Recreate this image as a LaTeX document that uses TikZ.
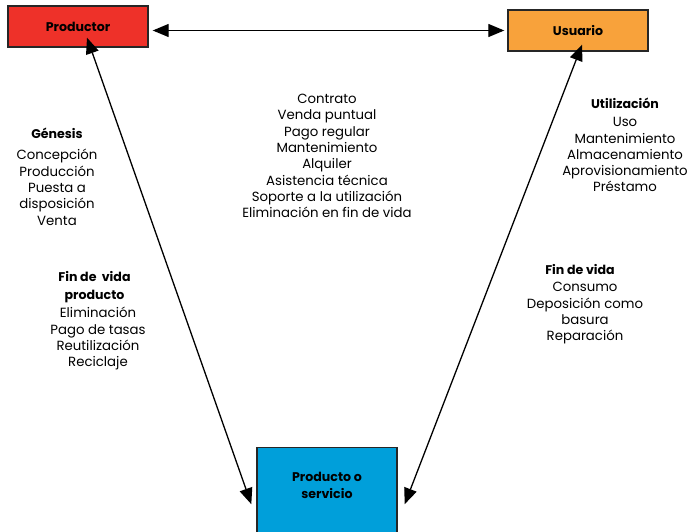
\documentclass[tikz,border=0pt]{standalone}
\usepackage{fontspec}
\setmainfont{Poppins}
\usetikzlibrary{arrows.meta,calc}
\definecolor{prodred}{HTML}{EE3129}
\definecolor{usuorange}{HTML}{F8A23B}
\definecolor{servblue}{HTML}{009FDA}
\tikzset{
  actor/.style={draw=black!85, line width=1.4pt, minimum width=140pt, minimum height=41pt,
    inner sep=0pt, font=\fontsize{12.6}{14}\selectfont\bfseries},
  linkarrow/.style={line width=1.3pt, {Triangle[length=16pt,width=13pt]}-{Triangle[length=16pt,width=13pt]}},
  txt/.style={align=center, inner sep=0pt, font=\fontsize{13.3}{16.3}\selectfont},
  head/.style={align=center, inner sep=0pt, font=\fontsize{12.6}{17.5}\selectfont\bfseries}
}
\begin{document}
\begin{tikzpicture}[x=1pt,y=-1pt]
\useasboundingbox (0,0) rectangle (693,532);
% the three actors
\node[actor, fill=prodred] (prod) at (78,26.5) {Productor};
\node[actor, fill=usuorange] (usu) at (578,30.5) {Usuario};
\node[actor, fill=servblue, minimum height=88pt, anchor=north] (ps) at (327,447) {};
\node[head, anchor=north, font=\fontsize{12.6}{17}\selectfont\bfseries] (pst) at ([yshift=-24.6pt]ps.north) {Producto o\\servicio};
% connectors
\draw[linkarrow] ([xshift=4pt]prod.east |- usu.west) -- ([xshift=-3pt]usu.west);
\draw[linkarrow] ([shift={(9,-10)}]prod.south) -- ([shift={(-5,12.5)}]ps.west);
\draw[linkarrow] ([shift={(4,-7)}]usu.south) -- ([shift={(7,12.5)}]ps.east);
% exchanges between producer and user
\node[txt, anchor=north] (rel) at (327,94) {Contrato\\Venda puntual\\Pago regular\\Mantenimiento\\Alquiler\\Asistencia técnica\\Soporte a la utilización\\Eliminación en fin de vida};
% producer side
\node[head, anchor=north] (gen) at (57,128) {Génesis};
\node[txt, anchor=north] (genl) at (57,149.3) {Concepción\\Producción\\Puesta a\\disposición\\Venta};
\node[head, anchor=north] (fvp) at (94.5,271.5) {Fin de~ vida\\producto};
\node[txt, anchor=north] (fvpl) at (98,307.3) {Eliminación\\Pago de tasas\\Reutilización\\Reciclaje};
% user side
\node[head, anchor=north] (uti) at (625,97.5) {Utilización};
\node[txt, anchor=north] (util) at (625,117.3) {Uso\\Mantenimiento\\Almacenamiento\\Aprovisionamiento\\Préstamo};
\node[head, anchor=north] (fv) at (580,264.5) {Fin de vida};
\node[txt, anchor=north] (fvl) at (585,282.3) {Consumo\\Deposición como\\basura\\Reparación};
\end{tikzpicture}
\end{document}
